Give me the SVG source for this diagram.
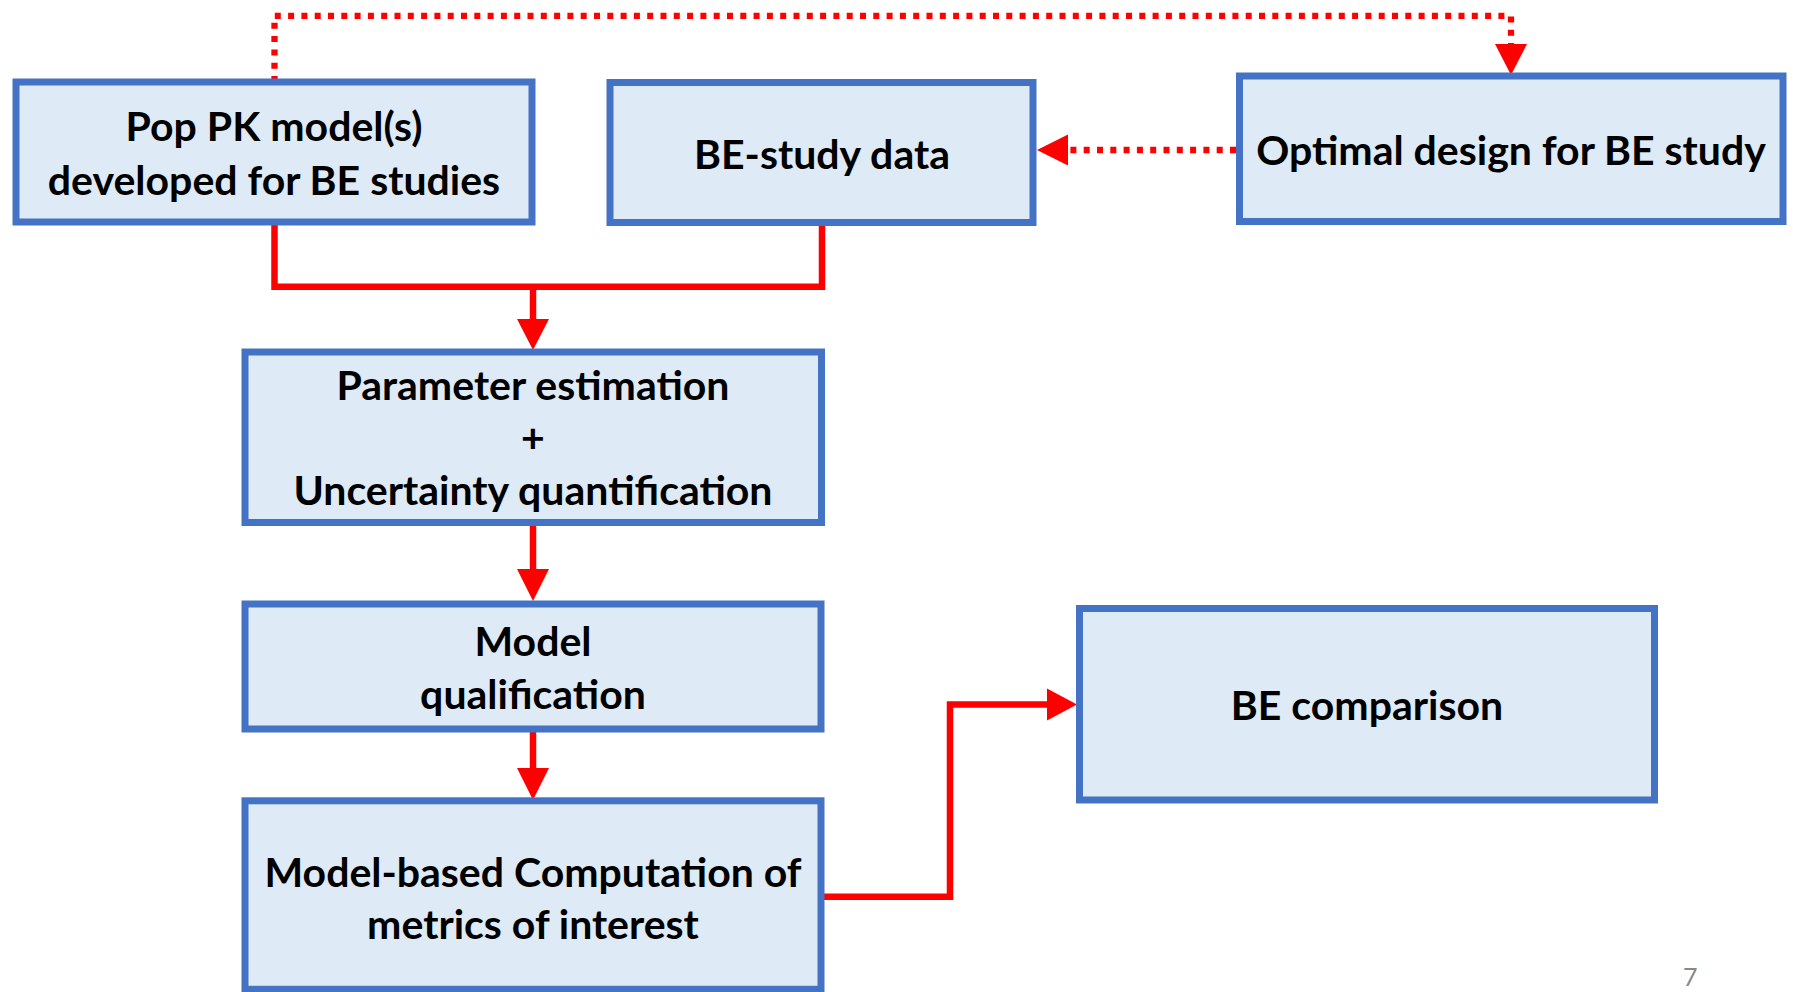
<svg xmlns="http://www.w3.org/2000/svg" width="1793" height="992" viewBox="0 0 1793 992">
<style>
.box{fill:#DEEAF6;stroke:#4472C4;stroke-width:7}
.t{font-family:Lato,"Liberation Sans",sans-serif;font-weight:bold;font-size:41px;fill:#000;text-anchor:middle}
.solid{fill:none;stroke:#FF0000;stroke-width:6.5}
.dot{fill:none;stroke:#FF0000;stroke-width:6.3;stroke-dasharray:6 7.3}
.head{fill:#FF0000}
.pg{font-family:Lato,"Liberation Sans",sans-serif;font-size:25px;fill:#898989}
</style>
<g id="connectors">
<path class="dot" d="M274.5,82 V15.8 H1511 V44"/>
<polygon class="head" points="1495,44 1527,44 1511,75"/>
<path class="dot" d="M1236,150 H1068"/>
<polygon class="head" points="1037,150 1068,134.5 1068,165.5"/>
<path class="solid" d="M274.5,222 V286.7 H822 V222.5"/>
<path class="solid" d="M533,286.7 V320"/>
<polygon class="head" points="517,319 549,319 533,350"/>
<path class="solid" d="M533,522.5 V570"/>
<polygon class="head" points="517,569 549,569 533,601"/>
<path class="solid" d="M533,729 V769"/>
<polygon class="head" points="517,768 549,768 533,800"/>
<path class="solid" d="M824,896.7 H950 V704.5 H1047"/>
<polygon class="head" points="1047,688.5 1047,720.5 1077,704.5"/>
</g>
<g id="popPK">
<rect class="box" x="16" y="82" width="516" height="140"/>
<text class="t" x="274" y="141">Pop PK model(s)</text>
<text class="t" x="274" y="195">developed for BE studies</text>
</g>
<g id="beData">
<rect class="box" x="610" y="82.5" width="423" height="140"/>
<text class="t" x="822" y="168.5">BE-study data</text>
</g>
<g id="optimalDesign">
<rect class="box" x="1239.5" y="76" width="543.5" height="145.5"/>
<text class="t" x="1511" y="165">Optimal design for BE study</text>
</g>
<g id="paramEst">
<rect class="box" x="245" y="352" width="576.5" height="170.5"/>
<text class="t" x="533" y="400">Parameter estimation</text>
<text class="t" x="533" y="452">+</text>
<text class="t" x="533" y="505">Uncertainty quantification</text>
</g>
<g id="modelQual">
<rect class="box" x="245" y="604" width="576" height="125"/>
<text class="t" x="533" y="655.5">Model</text>
<text class="t" x="533" y="708.5">qualification</text>
</g>
<g id="modelComp">
<rect class="box" x="245" y="800.8" width="576" height="188.5"/>
<text class="t" x="533" y="886.5">Model-based Computation of</text>
<text class="t" x="533" y="938.5">metrics of interest</text>
</g>
<g id="beComparison">
<rect class="box" x="1079.5" y="608.5" width="575" height="191.5"/>
<text class="t" x="1367" y="720">BE comparison</text>
</g>
<text class="pg" x="1683" y="986">7</text>
</svg>
